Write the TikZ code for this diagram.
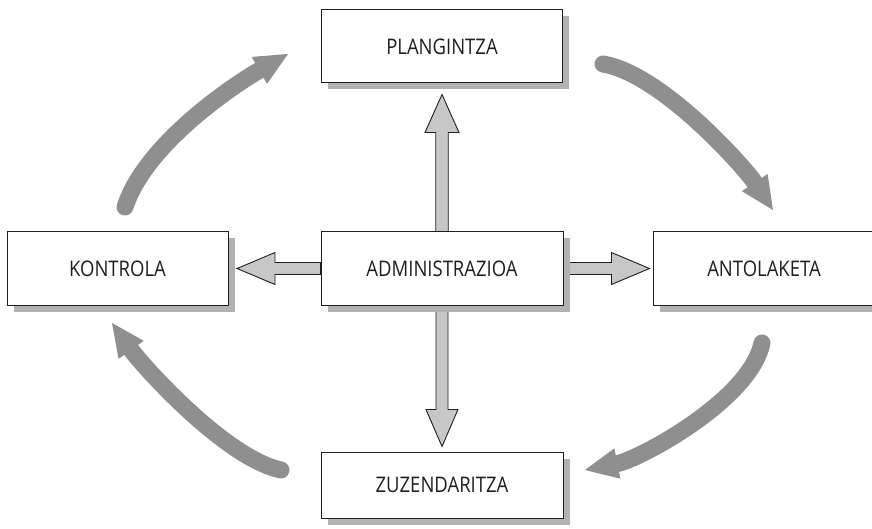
\documentclass[tikz,border=0pt]{standalone}
\usepackage{fontspec}
\setmainfont{Open Sans}[FakeStretch=0.86]
\usetikzlibrary{calc,shadows,arrows.meta}

\definecolor{shadowgray}{gray}{0.70}
\definecolor{blockgray}{gray}{0.78}
\definecolor{cyclegray}{gray}{0.56}
\definecolor{inkgray}{gray}{0.12}

\pgfdeclarelayer{background}
\pgfsetlayers{background,main}

\begin{document}
\begin{tikzpicture}[x=1pt,y=-1pt,
  stagebox/.style={draw=inkgray, line width=1pt, fill=white, text=inkgray,
    minimum height=73pt, inner sep=0pt, font=\fontsize{21.5}{26}\selectfont,
    drop shadow={shadow xshift=6.5pt, shadow yshift=-6.5pt, fill=shadowgray, opacity=1}},
  blockarrow/.style={draw=inkgray, line width=0.9pt, fill=blockgray, line join=miter},
  cyclearrow/.style={draw=cyclegray, line width=17pt, line cap=round,
    -{Triangle[length=33pt,width=31pt,line width=0pt]}}
]
\useasboundingbox (0,0) rectangle (872,529);

% the five stages
\node[stagebox, minimum width=241pt] (plan)  at (442,46.5)   {PLANGINTZA};
\node[stagebox, minimum width=242pt] (admin) at (442,268.5)  {ADMINISTRAZIOA};
\node[stagebox, minimum width=221pt] (kont)  at (117.5,268.5){KONTROLA};
\node[stagebox, minimum width=222pt] (antol) at (764,268.5)  {ANTOLAKETA};
\node[stagebox, minimum width=242pt, minimum height=66pt] (zuz) at (442,485) {ZUZENDARITZA};

% tips of the block arrows
\coordinate (upTip)    at ($(plan.south)+(0,11)$);
\coordinate (downTip)  at ($(zuz.north)+(0,-5)$);
\coordinate (rightTip) at ($(antol.west)+(-3,0)$);
\coordinate (leftTip)  at ($(kont.east)+(8.5,0)$);

% ends of the cycle arrows
\coordinate (tlTail) at (125,207);  \coordinate (tlTip) at (288,54);
\coordinate (trTail) at (603,64);   \coordinate (trTip) at (773,210);
\coordinate (brTail) at (762,343);  \coordinate (brTip) at (585,470);
\coordinate (blTail) at (281,470);  \coordinate (blTip) at (112,323);

\begin{pgfonlayer}{background}
  % block arrows out of ADMINISTRAZIOA
  \draw[blockarrow] ($(admin.north)+(-6.25,0)$) -- ($(upTip)+(-6.25,38)$) -- ($(upTip)+(-17,38)$)
    -- (upTip) -- ($(upTip)+(17,38)$) -- ($(upTip)+(6.25,38)$) -- ($(admin.north)+(6.25,0)$) -- cycle;
  \draw[blockarrow] ($(admin.south)+(-6,0)$) -- ($(downTip)+(-6,-37)$) -- ($(downTip)+(-16,-37)$)
    -- (downTip) -- ($(downTip)+(16,-37)$) -- ($(downTip)+(6,-37)$) -- ($(admin.south)+(6,0)$) -- cycle;
  \draw[blockarrow] ($(admin.east)+(0,-6)$) -- ($(rightTip)+(-38,-6)$) -- ($(rightTip)+(-38,-16)$)
    -- (rightTip) -- ($(rightTip)+(-38,16)$) -- ($(rightTip)+(-38,6)$) -- ($(admin.east)+(0,6)$) -- cycle;
  \draw[blockarrow] ($(admin.west)+(0,-6)$) -- ($(leftTip)+(38,-6)$) -- ($(leftTip)+(38,-16)$)
    -- (leftTip) -- ($(leftTip)+(38,16)$) -- ($(leftTip)+(38,6)$) -- ($(admin.west)+(0,6)$) -- cycle;

  % the management cycle
  \draw[cyclearrow] (tlTail) .. controls (145,145) and (232,86) .. (tlTip);
  \draw[cyclearrow] (trTail) .. controls (662,74) and (745,168) .. (trTip);
  \draw[cyclearrow] (brTail) .. controls (750,400) and (640,459) .. (brTip);
  \draw[cyclearrow] (blTail) .. controls (225,458) and (142,365) .. (blTip);
\end{pgfonlayer}
\end{tikzpicture}
\end{document}
